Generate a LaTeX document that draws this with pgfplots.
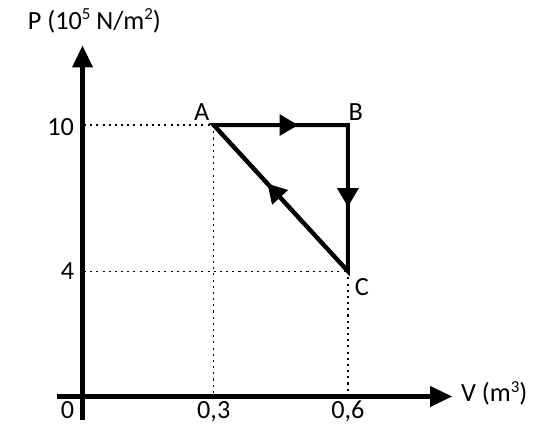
\documentclass[border=0pt]{standalone}
\usepackage{pgfplots}
\pgfplotsset{compat=1.18}
\usepackage{fontspec}
\setmainfont{Carlito}
\usetikzlibrary{arrows.meta,decorations.markings}
\newcommand{\supx}[1]{\raisebox{0.75ex}{\fontsize{9}{10}\selectfont #1}}
\begin{document}
\fontsize{14}{16}\selectfont
\begin{tikzpicture}
\begin{axis}[
  scale only axis, width=10cm, height=8.284cm,
  xmin=-0.17778, xmax=1.01333, ymin=-3.0204, ymax=15.102,
  axis lines=none, xtick=\empty, ytick=\empty, clip=false,
  midarrow/.style={postaction={decorate},decoration={markings,
     mark=at position #1 with {\arrow{Triangle[length=10pt,width=11pt]}}}},
]
\path (rel axis cs:0,0) rectangle (rel axis cs:1,1);
% dotted guide lines
\addplot[black, line width=0.7pt, dash pattern=on 1.1pt off 2.2pt] coordinates {(0.01,10) (0.3,10)};
\addplot[black, line width=0.7pt, dash pattern=on 1.1pt off 2.2pt] coordinates {(0.01,4) (0.6,4)};
\addplot[black, line width=0.7pt, dash pattern=on 1.1pt off 2.2pt] coordinates {(0.3,10) (0.3,-1.143)};
\addplot[black, line width=0.7pt, dash pattern=on 1.1pt off 2.2pt] coordinates {(0.6,4) (0.6,-1.143)};
% axes
\draw[line width=2.2pt, -{Triangle[length=11.7pt,width=10.6pt]}] (axis cs:0.0067,-2.12) -- (axis cs:0.0067,13.27);
\draw[line width=2.2pt, -{Triangle[length=11.7pt,width=10.6pt]}] (axis cs:-0.051,-1.143) -- (axis cs:0.833,-1.143);
% cycle
\addplot[black, line width=2.2pt, midarrow=0.63] coordinates {(0.3,10) (0.6,10)};
\addplot[black, line width=2.2pt, midarrow=0.56] coordinates {(0.6,10) (0.6,4)};
\addplot[black, line width=2.2pt, midarrow=0.60] coordinates {(0.6,4) (0.3,10)};
\draw[line width=2.2pt, line cap=rect] (axis cs:0.3,10) -- (axis cs:0.6,10) -- (axis cs:0.6,4) -- cycle;
% labels
\node at (axis cs:0.0333,14.286) {P (10\supx{5} N/m\supx{2})};
\node at (axis cs:0.2733,10.53) {A};
\node at (axis cs:0.6178,10.53) {B};
\node at (axis cs:0.631,3.35) {C};
\node at (axis cs:-0.0422,9.92) {10};
\node at (axis cs:-0.0267,4) {4};
\node at (axis cs:-0.0267,-1.714) {0};
\node at (axis cs:0.3,-1.755) {0,3};
\node at (axis cs:0.6,-1.755) {0,6};
\node at (axis cs:0.927,-1.02) {V (m\supx{3})};
\end{axis}
\end{tikzpicture}
\end{document}
